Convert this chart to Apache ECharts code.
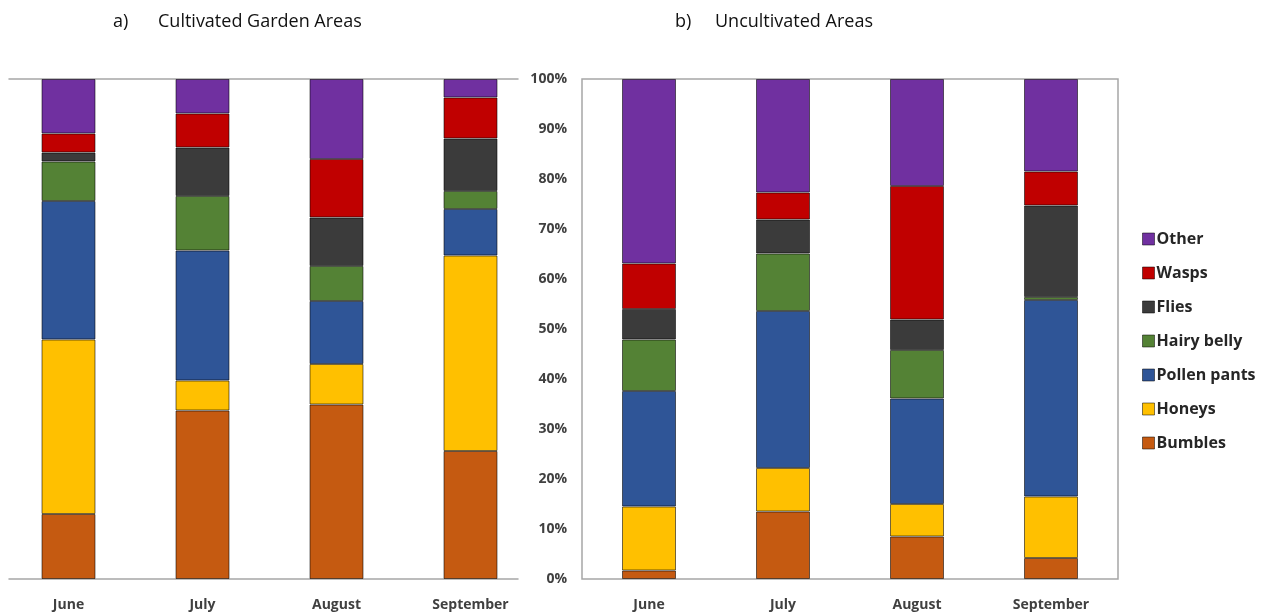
<!DOCTYPE html>
<html>
<head>
<meta charset="utf-8">
<title>Pollinator visits</title>
<script src="https://cdn.jsdelivr.net/npm/echarts@6/dist/echarts.min.js"></script>
<style>
  html, body { margin: 0; padding: 0; background: #fff; }
  #chart { width: 1283px; height: 616px; }
</style>
</head>
<body>
<div id="chart"></div>
<script>
// months on the x axis
const months = ['June', 'July', 'August', 'September'];
const yTicks = ['0%', '10%', '20%', '30%', '40%', '50%', '60%', '70%', '80%', '90%', '100%'];

// a) cultivated garden areas, percent of visits
const gardenBumbles    = [13.0, 33.7, 34.9, 25.6];
const gardenHoneys     = [34.9, 6.0, 8.1, 39.1];
const gardenPollen     = [27.7, 26.0, 12.6, 9.3];
const gardenHairy      = [7.9, 10.9, 7.0, 3.6];
const gardenFlies      = [1.8, 9.7, 9.7, 10.5];
const gardenWasps      = [3.8, 6.8, 11.7, 8.2];
const gardenOther      = [10.9, 6.9, 16.0, 3.7];

// b) uncultivated areas, percent of visits
const wildBumbles = [1.7, 13.5, 8.5, 4.2];
const wildHoneys  = [12.8, 8.7, 6.5, 12.3];
const wildPollen  = [23.1, 31.4, 21.1, 39.3];
const wildHairy   = [10.3, 11.5, 9.7, 0.6];
const wildFlies   = [6.1, 6.8, 6.1, 18.3];
const wildWasps   = [9.1, 5.4, 26.7, 6.8];
const wildOther   = [36.9, 22.7, 21.4, 18.5];

const groupNames = ['Bumbles', 'Honeys', 'Pollen pants', 'Hairy belly', 'Flies', 'Wasps', 'Other'];
const groupColors = ['#C55A11', '#FFC000', '#2F5597', '#548235', '#3B3B3B', '#C00000', '#7030A0'];
const gardenData = [gardenBumbles, gardenHoneys, gardenPollen, gardenHairy, gardenFlies, gardenWasps, gardenOther];
const wildData = [wildBumbles, wildHoneys, wildPollen, wildHairy, wildFlies, wildWasps, wildOther];

const font = 'Open Sans';
const frameColor = '#a6a6a6';

const chart = echarts.init(document.getElementById('chart'));

// build stacked series for one panel
function makeSeries(dataSets, axisIndex, stackName) {
  return dataSets.map((vals, i) => ({
    name: groupNames[i],
    type: 'bar',
    stack: stackName,
    xAxisIndex: axisIndex,
    yAxisIndex: axisIndex,
    barWidth: 54,
    data: vals,
    itemStyle: {
      color: groupColors[i],
      borderColor: 'rgba(0,0,0,0.55)',
      borderWidth: 1
    },
    emphasis: { disabled: true }
  }));
}

const monthLabel = {
  fontFamily: font,
  fontWeight: 'bold',
  fontSize: 14,
  color: '#404040',
  margin: 19
};

const titleText = { fontFamily: font, fontWeight: 'normal', fontSize: 18, color: '#111' };

const option = {
  animation: false,
  title: [
    { text: 'a)', left: 108, top: 8, textStyle: titleText },
    { text: 'Cultivated Garden Areas', left: 153, top: 8, textStyle: titleText },
    { text: 'b)', left: 670, top: 8, textStyle: titleText },
    { text: 'Uncultivated Areas', left: 710, top: 8, textStyle: titleText }
  ],
  legend: {
    orient: 'vertical',
    left: 1137,
    top: 225,
    itemWidth: 12,
    itemHeight: 12,
    itemGap: 16,
    icon: 'rect',
    selectedMode: false,
    data: ['Other', 'Wasps', 'Flies', 'Hairy belly', 'Pollen pants', 'Honeys', 'Bumbles'],
    itemStyle: { borderColor: 'rgba(0,0,0,0.5)', borderWidth: 1 },
    textStyle: {
      fontFamily: font,
      fontWeight: 'bold',
      fontSize: 16,
      lineHeight: 18,
      color: '#262626',
      padding: [0, 0, 0, -3]
    }
  },
  grid: [
    // left panel bars
    { left: 1.5, top: 79, width: 536, height: 500 },
    // left panel frame lines (top and bottom only)
    { left: 9, top: 79, width: 509, height: 500 },
    // right panel
    { left: 582, top: 79, width: 536, height: 500, show: true, borderColor: frameColor, borderWidth: 1.5, backgroundColor: 'transparent' }
  ],
  xAxis: [
    {
      gridIndex: 0, type: 'category', data: months,
      axisLine: { show: false }, axisTick: { show: false },
      axisLabel: monthLabel
    },
    {
      gridIndex: 1, type: 'value', position: 'bottom',
      axisLine: { show: true, lineStyle: { color: frameColor, width: 1.5 } },
      axisTick: { show: false }, axisLabel: { show: false }, splitLine: { show: false }
    },
    {
      gridIndex: 2, type: 'category', data: months,
      axisLine: { show: false }, axisTick: { show: false },
      axisLabel: monthLabel
    },
    {
      gridIndex: 1, type: 'value', position: 'top',
      axisLine: { show: true, lineStyle: { color: frameColor, width: 1.5 } },
      axisTick: { show: false }, axisLabel: { show: false }, splitLine: { show: false }
    }
  ],
  yAxis: [
    { gridIndex: 0, type: 'value', min: 0, max: 100, interval: 10, show: false },
    { gridIndex: 1, type: 'value', min: 0, max: 100, show: false },
    {
      gridIndex: 2, type: 'value', min: 0, max: 100, interval: 10,
      axisLine: { show: false }, axisTick: { show: false }, splitLine: { show: false },
      axisLabel: {
        fontFamily: font, fontWeight: 'bold', fontSize: 14, color: '#404040', margin: 15,
        formatter: (v) => yTicks[Math.round(v / 10)]
      }
    }
  ],
  series: [
    ...makeSeries(gardenData, 0, 'garden'),
    ...makeSeries(wildData, 2, 'wild')
  ]
};

chart.setOption(option);
</script>
</body>
</html>
